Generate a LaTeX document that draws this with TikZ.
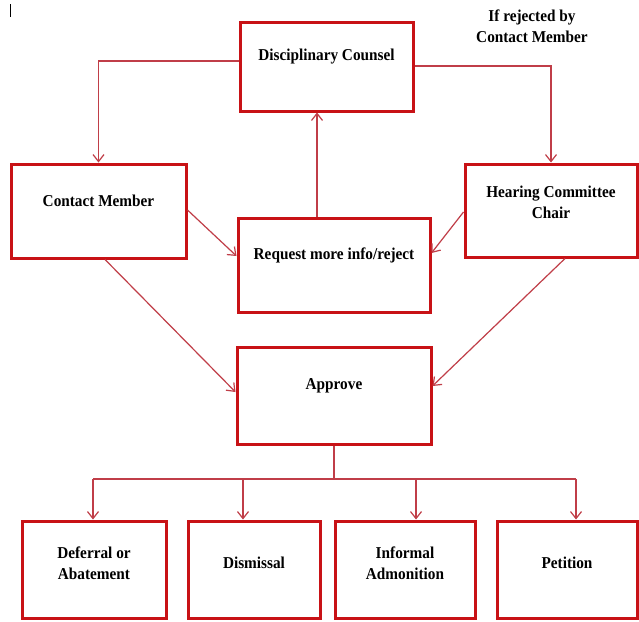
\documentclass[tikz,border=0pt]{standalone}
\usepackage{fontspec}
\setmainfont[FakeStretch=0.92]{Liberation Serif}
\usetikzlibrary{arrows.meta}
\definecolor{boxred}{RGB}{200,18,22}
\definecolor{linkred}{RGB}{192,62,72}
\begin{document}
\begin{tikzpicture}[x=1pt,y=-1pt,
  box/.style={draw=boxred,line width=3pt,inner sep=0pt,fill=white},
  txt/.style={font=\fontsize{16.6}{21}\selectfont\bfseries,align=center,inner sep=0pt},
  link/.style={draw=linkred,line width=1.2pt},
  conn/.style={link,-{Straight Barb[length=7pt,width=11pt,line width=1.2pt]}}]
\useasboundingbox (0,0) rectangle (639,621);
\fill[white] (0,0) rectangle (639,621);
% small mark in the corner
\draw[line width=0.9pt] (10.5,4) -- (10.5,17);

% boxes
\node[box,minimum width=173pt,minimum height=89pt] (dc)  at (326.5,66.5) {};
\node[box,minimum width=175pt,minimum height=94pt] (cm)  at (98.5,211)   {};
\node[box,minimum width=192pt,minimum height=94pt] (rmi) at (334,265)    {};
\node[box,minimum width=172pt,minimum height=93pt] (hcc) at (551,210.5)  {};
\node[box,minimum width=194pt,minimum height=97pt] (ap)  at (334,395.5)  {};
\node[box,minimum width=144pt,minimum height=97pt] (def) at (94,569.5)   {};
\node[box,minimum width=132pt,minimum height=97pt] (dis) at (254,569.5)  {};
\node[box,minimum width=140pt,minimum height=97pt] (inf) at (405,569.5)  {};
\node[box,minimum width=140pt,minimum height=97pt] (pet) at (567,569.5)  {};

% labels
\node[txt] (dcT)  at (326.5,57) {Disciplinary Counsel};
\node[txt] (cmT)  at (98.5,201) {Contact Member};
\node[txt] (rmiT) at (334,255)  {Request more info/reject};
\node[txt] (hccT) at (551,202.5){Hearing Committee\\Chair};
\node[txt] (apT)  at (334,386)  {Approve};
\node[txt] (defT) at (94,563)   {Deferral or\\Abatement};
\node[txt] (disT) at (254,563)  {Dismissal};
\node[txt] (infT) at (405,563)  {Informal\\Admonition};
\node[txt] (petT) at (567,563)  {Petition};
\node[txt] (note) at (532,26)   {If rejected by\\Contact Member};

% connectors from the top box
\draw[conn] (dc.west |- 0,61) -| (cm.north);
\draw[conn] (dc.east |- 0,66) -| (hcc.north);
\draw[conn] (rmi.north -| 317,0) -- (dc.south -| 317,0);
\draw[conn] (cm.east |- 0,210) -- (rmi.west |- 0,256);
\draw[conn] (hcc.west |- 0,212) -- (rmi.east |- 0,253);
\draw[conn] (cm.south -| 105,0) -- (ap.west |- 0,392);
\draw[conn] (hcc.south -| 565,0) -- (ap.east |- 0,386);

% distribution to the outcomes
\coordinate (bus) at (ap.south |- 0,479);
\draw[link] (ap.south) -- (bus);
\draw[link] (93,479) -- (576,479);
\draw[conn] (93,479)  -- (def.north -| 93,0);
\draw[conn] (243,479) -- (dis.north -| 243,0);
\draw[conn] (416,479) -- (inf.north -| 416,0);
\draw[conn] (576,479) -- (pet.north -| 576,0);
\end{tikzpicture}
\end{document}
